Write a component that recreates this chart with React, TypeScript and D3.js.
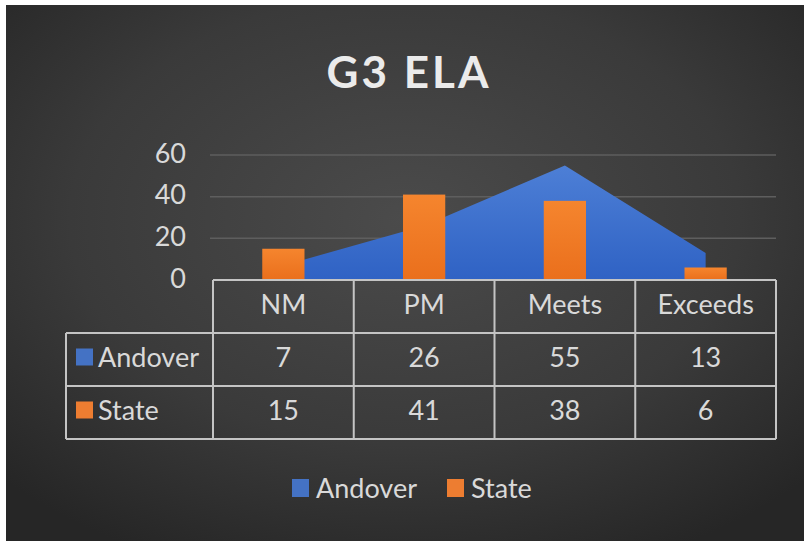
import React from 'react';
import * as d3 from 'd3';

const categories = ['NM', 'PM', 'Meets', 'Exceeds'];
const andover = [7, 26, 55, 13];
const state = [15, 41, 38, 6];
const yTicks = [0, 20, 40, 60];
const seriesNames = ['Andover', 'State'];

const W = 804;
const H = 541;
const FONT = 'Lato, "Open Sans", sans-serif';
const TEXT = '#d9d9d9';
const BORDER = '#c4c4c4';
const BLUE = '#4472c4';
const ORANGE = '#ed7d31';

const App: React.FC = () => {
    const x = d3.scaleBand<string>().domain(categories).range([213, 776]);
    const y = d3.scaleLinear().domain([0, 60]).range([280, 155]);

    const cx = (c: string) => (x(c) || 0) + x.bandwidth() / 2;
    const barW = x.bandwidth() * 0.3;

    const area = d3
        .area<number>()
        .x((_, i) => cx(categories[i]))
        .y0(y(0))
        .y1(d => y(d));

    // table rows
    const headerTop = y(0);
    const rowH = 53;
    const rowTops = [headerTop, headerTop + rowH, headerTop + rowH * 2, headerTop + rowH * 3];
    const tableLeft = 66;
    const tableRight = 776;
    const rows = [
        { name: seriesNames[0], values: andover, color: BLUE },
        { name: seriesNames[1], values: state, color: ORANGE },
    ];

    return (
        <svg width={W} height={H} style={{ display: 'block', position: 'absolute', left: 0, top: 0 }}>
            <defs>
                <radialGradient id="bg" cx="0.5" cy="0.4" r="0.7">
                    <stop offset="0" stopColor="#4b4b4b" />
                    <stop offset="0.6" stopColor="#3a3a3a" />
                    <stop offset="1" stopColor="#262626" />
                </radialGradient>
                <linearGradient id="blueG" x1="0" y1="0" x2="0" y2="1">
                    <stop offset="0" stopColor="#4d7fd6" />
                    <stop offset="1" stopColor="#2f62c4" />
                </linearGradient>
                <linearGradient id="orangeG" x1="0" y1="0" x2="0" y2="1">
                    <stop offset="0" stopColor="#f5852e" />
                    <stop offset="1" stopColor="#ea6f1c" />
                </linearGradient>
            </defs>
            <rect x={0} y={0} width={W} height={H} fill="#ffffff" />
            <rect x={6} y={5} width={W - 6} height={H - 5} fill="url(#bg)" />

            <text
                x={409}
                y={88}
                textAnchor="middle"
                fontFamily={FONT}
                fontWeight={700}
                fontSize={44}
                fill="#ebebeb"
                letterSpacing={3}
            >
                G3 ELA
            </text>

            {/* gridlines */}
            {yTicks.filter(t => t > 0).map(t => (
                <line key={t} x1={210} x2={776} y1={y(t)} y2={y(t)} stroke="#5e5e5e" strokeWidth={1.5} />
            ))}

            {/* y axis labels */}
            {yTicks.map(t => (
                <text
                    key={t}
                    x={186}
                    y={y(t) - 3}
                    textAnchor="end"
                    dominantBaseline="central"
                    fontFamily={FONT}
                    fontSize={27}
                    fill={TEXT}
                >
                    {t}
                </text>
            ))}

            {/* Andover area */}
            <path d={area(andover) || ''} fill="url(#blueG)" />

            {/* State bars */}
            {state.map((v, i) => (
                <rect
                    key={categories[i]}
                    x={cx(categories[i]) - barW / 2}
                    y={y(v)}
                    width={barW}
                    height={y(0) - y(v)}
                    fill="url(#orangeG)"
                />
            ))}

            {/* data table */}
            <g stroke={BORDER} strokeWidth={2} fill="none">
                <line x1={213} x2={tableRight} y1={rowTops[0]} y2={rowTops[0]} />
                {rowTops.slice(1).map((t, i) => (
                    <line key={i} x1={tableLeft} x2={tableRight} y1={t} y2={t} />
                ))}
                <line x1={tableLeft} x2={tableLeft} y1={rowTops[1]} y2={rowTops[3]} />
                {categories.map(c => (
                    <line key={c} x1={x(c) || 0} x2={x(c) || 0} y1={rowTops[0]} y2={rowTops[3]} />
                ))}
                <line x1={tableRight} x2={tableRight} y1={rowTops[0]} y2={rowTops[3]} />
            </g>

            {categories.map(c => (
                <text
                    key={c}
                    x={cx(c)}
                    y={rowTops[0] + rowH / 2 - 3}
                    textAnchor="middle"
                    dominantBaseline="central"
                    fontFamily={FONT}
                    fontSize={27}
                    fill={TEXT}
                >
                    {c}
                </text>
            ))}

            {rows.map((r, ri) => {
                const mid = rowTops[ri + 1] + rowH / 2 - 3;
                return (
                    <g key={r.name}>
                        <rect x={76} y={mid - 8} width={17} height={17} fill={r.color} />
                        <text
                            x={98}
                            y={mid}
                            dominantBaseline="central"
                            fontFamily={FONT}
                            fontSize={27}
                            fill={TEXT}
                        >
                            {r.name}
                        </text>
                        {r.values.map((v, i) => (
                            <text
                                key={i}
                                x={cx(categories[i])}
                                y={mid}
                                textAnchor="middle"
                                dominantBaseline="central"
                                fontFamily={FONT}
                                fontSize={27}
                                fill={TEXT}
                            >
                                {v}
                            </text>
                        ))}
                    </g>
                );
            })}

            {/* legend */}
            <g>
                <rect x={292} y={479} width={17} height={18} fill={BLUE} />
                <text x={316} y={487} dominantBaseline="central" fontFamily={FONT} fontSize={27} fill={TEXT}>
                    {seriesNames[0]}
                </text>
                <rect x={447} y={479} width={17} height={18} fill={ORANGE} />
                <text x={471} y={487} dominantBaseline="central" fontFamily={FONT} fontSize={27} fill={TEXT}>
                    {seriesNames[1]}
                </text>
            </g>
        </svg>
    );
};

export default App;
